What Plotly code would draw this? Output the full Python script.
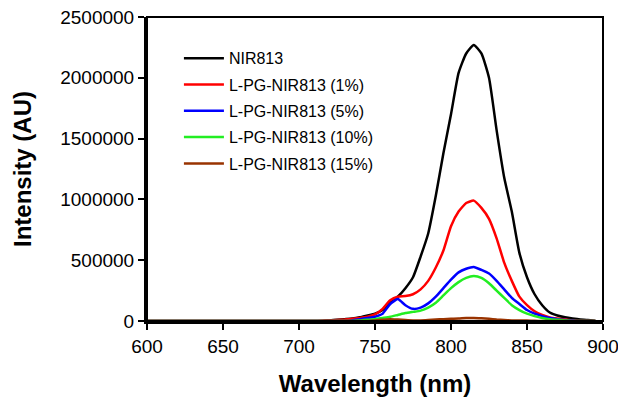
import plotly.graph_objects as go

wavelength = [600, 700, 705, 710, 715, 720, 725, 730, 735, 740, 745, 750, 755, 760, 765, 770, 775,
              780, 785, 790, 795, 800, 805, 810, 815, 820, 825, 830, 835, 840, 845, 850, 855,
              860, 865, 870, 875, 880, 885, 890, 895]

nir813 = [0, 0, 0, 0, 0, 5000, 10000, 15000, 20000, 30000, 45000, 60000, 90000, 150000, 200000,
          270000, 360000, 530000, 720000, 1030000, 1380000, 1700000, 2040000, 2200000, 2270000,
          2200000, 2000000, 1570000, 1180000, 900000, 560000, 360000, 220000, 130000, 70000,
          45000, 30000, 20000, 12000, 8000, 0]

lpg_1 = [0, 0, 0, 0, 2000, 5000, 8000, 12000, 18000, 25000, 35000, 55000, 100000, 170000, 200000,
         205000, 220000, 260000, 330000, 440000, 580000, 780000, 900000, 970000, 990000,
         930000, 840000, 680000, 480000, 330000, 200000, 130000, 80000, 50000, 30000,
         20000, 12000, 5000, 0, 0, 0]

lpg_5 = [0, 0, 0, 0, 0, 0, 0, 0, 5000, 15000, 25000, 35000, 60000, 140000, 180000,
         130000, 100000, 110000, 145000, 200000, 270000, 340000, 400000, 430000, 445000,
         420000, 390000, 330000, 260000, 190000, 140000, 90000, 60000, 40000, 25000,
         15000, 8000, 4000, 0, 0, 0]

lpg_10 = [0, 0, 0, 0, 0, 0, 0, 0, 0, 5000, 10000, 15000, 25000, 35000, 50000,
          65000, 75000, 85000, 110000, 150000, 210000, 270000, 320000, 355000, 370000,
          355000, 310000, 250000, 190000, 130000, 90000, 60000, 40000, 25000, 15000,
          10000, 5000, 0, 0, 0, 0]

lpg_15 = [0, 0, 0, 0, 0, 0, 0, 0, 0, 0, 0, 5000, 10000, 15000, 12000,
          8000, 5000, 5000, 8000, 12000, 15000, 18000, 20000, 25000, 25000,
          22000, 18000, 12000, 8000, 5000, 5000, 4000, 2000, 0, 0,
          0, 0, 0, 0, 0, 0]

series_names = ["NIR813", "L-PG-NIR813 (1%)", "L-PG-NIR813 (5%)",
                "L-PG-NIR813 (10%)", "L-PG-NIR813 (15%)"]
series_values = [nir813, lpg_1, lpg_5, lpg_10, lpg_15]
series_colors = ["#000000", "#FF0000", "#0000FF", "#22EE22", "#993300"]

x_ticks = [600, 650, 700, 750, 800, 850, 900]
y_ticks = [0, 500000, 1000000, 1500000, 2000000, 2500000]

fig = go.Figure()
for i, (name, vals, col) in enumerate(zip(series_names, series_values, series_colors)):
    fig.add_trace(go.Scatter(x=wavelength, y=vals, mode="lines", name=name,
                             legendgroup=f"g{i}",
                             line=dict(color=col, width=2.5, shape="spline", smoothing=0.5)))

font_family = "Liberation Sans, Arial, sans-serif"

fig.update_layout(
    width=618, height=397,
    margin=dict(l=139, r=23, t=9, b=84, autoexpand=False),
    paper_bgcolor="white", plot_bgcolor="white",
    font=dict(family=font_family, color="black"),
    showlegend=True,
    legend=dict(x=0.07, y=0.92, xanchor="left", yanchor="top",
                bgcolor="rgba(0,0,0,0)", borderwidth=0,
                font=dict(size=16, family=font_family, color="black"),
                tracegroupgap=2.5, itemwidth=40),
    xaxis=dict(range=[600, 900], tickvals=x_ticks, ticktext=[str(v) for v in x_ticks],
               showgrid=False, zeroline=False, showline=True, linecolor="black", linewidth=3,
               ticks="outside", ticklen=6, tickwidth=2, tickcolor="black", automargin=False,
               ticklabeloverflow="allow",
               tickfont=dict(size=19, family=font_family),
               title=dict(text="<b>Wavelength (nm)</b>", font=dict(size=24, family=font_family),
                          standoff=20)),
    yaxis=dict(range=[0, 2500000], tickvals=y_ticks, ticktext=[str(v) for v in y_ticks],
               showgrid=False, zeroline=False, showline=True, linecolor="black", linewidth=3,
               ticks="outside", ticklen=6, tickwidth=2, tickcolor="black", automargin=False,
               ticklabeloverflow="allow",
               tickfont=dict(size=19, family=font_family),
               title=dict(text="<b>Intensity (AU)</b>", font=dict(size=24, family=font_family),
                          standoff=22)),
    shapes=[dict(type="rect", xref="paper", yref="paper", x0=0, y0=0, x1=1, y1=1,
                 line=dict(color="black", width=2), layer="above")],
)

fig.write_html("out.html")
